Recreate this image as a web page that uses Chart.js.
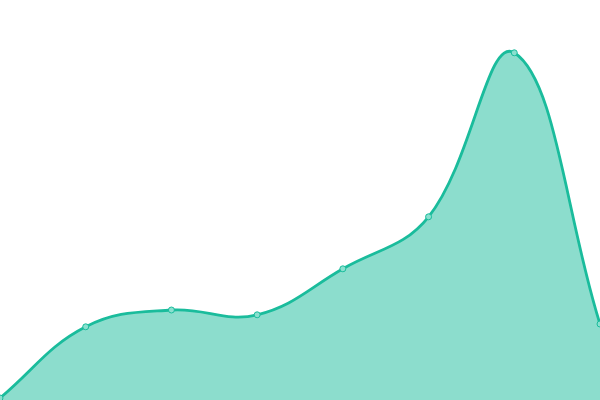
<!DOCTYPE html>
<html>
<head>
<meta charset="utf-8">
<script src="https://cdn.jsdelivr.net/npm/chart.js@4"></script>
<style>
  html, body { margin: 0; padding: 0; background: #fff; }
  #wrap { width: 600px; height: 400px; }
</style>
</head>
<body>
<div id="wrap"><canvas id="chart"></canvas></div>
<script>
let labels = ["1", "2", "3", "4", "5", "6", "7", "8"];
let values = [0.5, 18.3, 22.5, 21.3, 32.8, 45.8, 86.8, 19];

let ctx = document.getElementById("chart").getContext("2d");
let chart = new Chart(ctx, {
  type: "line",
  data: {
    labels: labels,
    datasets: [{
      data: values,
      fill: true,
      tension: 0.4,
      borderColor: "#1abc9c",
      backgroundColor: "rgba(26, 188, 156, 0.5)",
      borderWidth: 2.8,
      pointRadius: 3,
      pointBorderWidth: 1,
      pointBackgroundColor: "#8ae0cf",
      pointBorderColor: "#1abc9c"
    }]
  },
  options: {
    responsive: true,
    maintainAspectRatio: false,
    animation: false,
    layout: { padding: 0, autoPadding: false },
    plugins: {
      legend: { display: false },
      tooltip: { enabled: false }
    },
    scales: {
      x: { display: false },
      y: { display: false, min: 0, max: 100 }
    }
  }
});
</script>
</body>
</html>
